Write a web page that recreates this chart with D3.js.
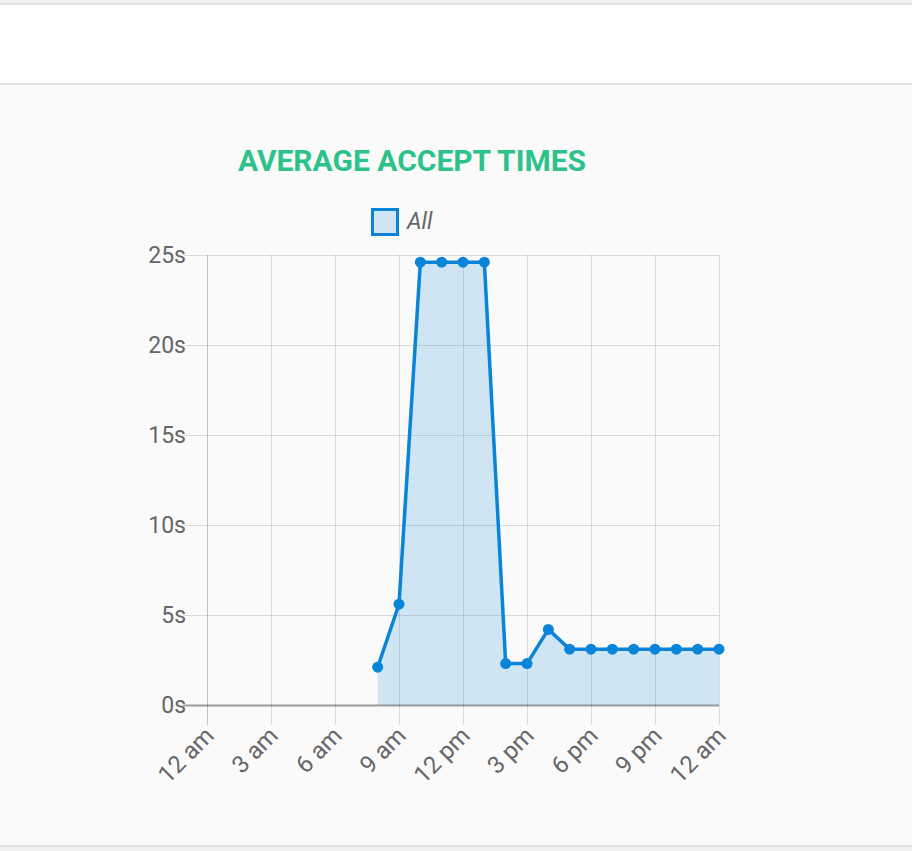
<!DOCTYPE html>
<html>
<head>
<meta charset="utf-8">
<script src="https://cdn.jsdelivr.net/npm/d3@7"></script>
<style>
  html, body { margin: 0; padding: 0; background: #fafafa; }
  svg { display: block; font-family: Roboto, "Noto Sans", sans-serif; }
</style>
</head>
<body>
<svg id="chart" width="912" height="851"></svg>
<script>
// hourly average accept time, seconds
const hours = [8, 9, 10, 11, 12, 13, 14, 15, 16, 17, 18, 19, 20, 21, 22, 23, 24];
const acceptSeconds = [2.1, 5.6, 24.6, 24.6, 24.6, 24.6, 2.3, 2.3, 4.2, 3.1, 3.1, 3.1, 3.1, 3.1, 3.1, 3.1, 3.1];
const xTickHours = [0, 3, 6, 9, 12, 15, 18, 21, 24];
const xTickLabels = ['12 am', '3 am', '6 am', '9 am', '12 pm', '3 pm', '6 pm', '9 pm', '12 am'];
const yTicks = [0, 5, 10, 15, 20, 25];
const seriesName = 'All';

const lineColor = '#0984d9';
const fillColor = 'rgba(9,132,217,0.18)';
const textColor = '#666';

const svg = d3.select('#chart');

// page panels behind the chart
svg.append('rect').attr('x', 0).attr('y', 0).attr('width', 912).attr('height', 851).attr('fill', '#efefef');
svg.append('rect').attr('x', 0).attr('y', 3).attr('width', 912).attr('height', 82).attr('fill', '#e3e3e3');
svg.append('rect').attr('x', 0).attr('y', 5).attr('width', 912).attr('height', 78).attr('fill', '#fff');
svg.append('rect').attr('x', 0).attr('y', 85).attr('width', 912).attr('height', 762).attr('fill', '#e3e3e3');
svg.append('rect').attr('x', 0).attr('y', 85).attr('width', 912).attr('height', 760).attr('fill', '#fafafa');

const plot = { left: 207, right: 719, top: 255, bottom: 705 };

const x = d3.scaleLinear().domain([0, 24]).range([plot.left, plot.right]);
const y = d3.scaleLinear().domain([0, 25]).range([plot.bottom, plot.top]);

// title
svg.append('text')
  .attr('x', 412)
  .attr('y', 171)
  .attr('text-anchor', 'middle')
  .attr('font-size', 30)
  .attr('font-weight', 'bold')
  .attr('fill', '#2ec28b')
  .text('AVERAGE ACCEPT TIMES');

// legend
const legend = svg.append('g');
legend.append('rect')
  .attr('x', 372.5).attr('y', 209.5)
  .attr('width', 25).attr('height', 25)
  .attr('fill', '#d0e4f3')
  .attr('stroke', lineColor)
  .attr('stroke-width', 3);
legend.append('text')
  .attr('x', 407)
  .attr('y', 229)
  .attr('font-size', 23)
  .attr('font-style', 'italic')
  .attr('fill', textColor)
  .text(seriesName);

// horizontal grid + y labels
const yAxis = d3.axisLeft(y)
  .tickValues(yTicks)
  .tickSize(-(plot.right - plot.left))
  .tickFormat(d => d + 's');
const gy = svg.append('g')
  .attr('transform', `translate(${plot.left},0)`)
  .call(yAxis);
gy.select('.domain').remove();
gy.selectAll('.tick line')
  .attr('x1', -24)
  .attr('stroke', d => d === 0 ? 'rgba(0,0,0,0.38)' : 'rgba(0,0,0,0.12)')
  .attr('stroke-width', d => d === 0 ? 2 : 1);
gy.selectAll('.tick text')
  .attr('x', -21)
  .attr('font-size', 23)
  .attr('font-family', 'Roboto, sans-serif')
  .attr('fill', textColor);

// vertical grid + x labels
const xAxis = d3.axisBottom(x)
  .tickValues(xTickHours)
  .tickSize(plot.top - plot.bottom)
  .tickFormat((d, i) => xTickLabels[i]);
const gx = svg.append('g')
  .attr('transform', `translate(0,${plot.bottom})`)
  .call(xAxis);
gx.select('.domain').remove();
gx.selectAll('.tick line')
  .attr('y2', 20)
  .attr('y1', plot.top - plot.bottom)
  .attr('stroke', d => d === 0 ? 'rgba(0,0,0,0.22)' : 'rgba(0,0,0,0.12)');
gx.selectAll('.tick text')
  .attr('font-size', 24)
  .attr('font-family', 'Roboto, sans-serif')
  .attr('fill', textColor)
  .attr('text-anchor', 'end')
  .attr('y', 0)
  .attr('dy', 0)
  .attr('transform', 'translate(8,32) rotate(-45)');

const pts = hours.map((h, i) => ({ h, v: acceptSeconds[i] }));

// area under the line
svg.append('path')
  .datum(pts)
  .attr('fill', fillColor)
  .attr('d', d3.area().x(d => x(d.h)).y0(y(0)).y1(d => y(d.v)));

svg.append('path')
  .datum(pts)
  .attr('fill', 'none')
  .attr('stroke', lineColor)
  .attr('stroke-width', 3.5)
  .attr('stroke-linejoin', 'round')
  .attr('d', d3.line().x(d => x(d.h)).y(d => y(d.v)));

svg.append('g')
  .selectAll('circle')
  .data(pts)
  .join('circle')
  .attr('cx', d => x(d.h))
  .attr('cy', d => y(d.v))
  .attr('r', 5.5)
  .attr('fill', lineColor);
</script>
</body>
</html>
